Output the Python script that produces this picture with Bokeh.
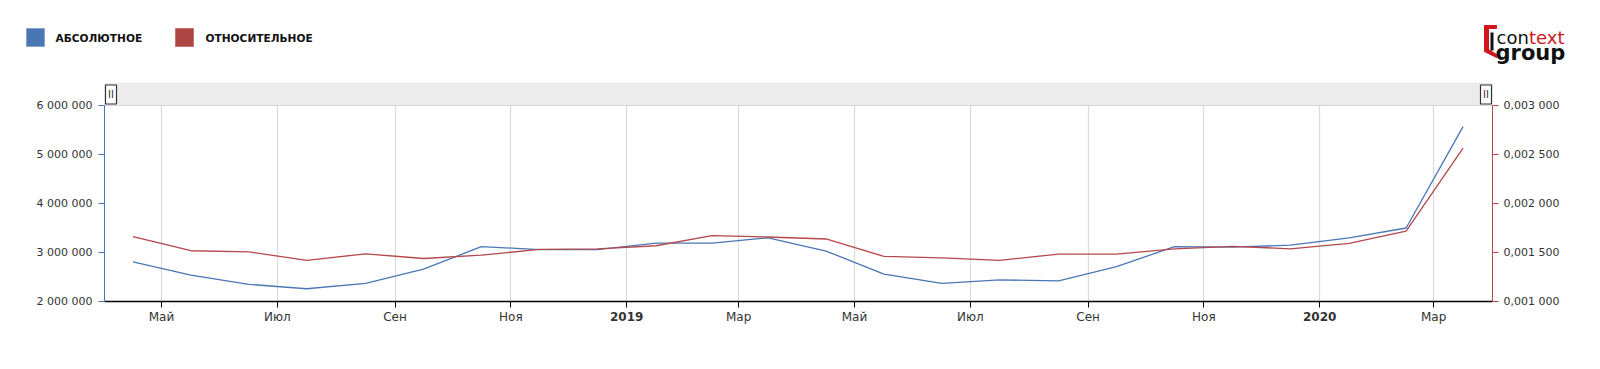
import pandas as pd
from bokeh.plotting import figure
from bokeh.layouts import column
from bokeh.models import (Range1d, LinearAxis, FixedTicker, CustomJSTickFormatter,
                          ColumnDataSource)
from bokeh.core.properties import value
from bokeh.embed import file_html
from bokeh.resources import INLINE

# ---------------- data ----------------
months = ["2018-04", "2018-05", "2018-06", "2018-07", "2018-08", "2018-09",
          "2018-10", "2018-11", "2018-12", "2019-01", "2019-02", "2019-03",
          "2019-04", "2019-05", "2019-06", "2019-07", "2019-08", "2019-09",
          "2019-10", "2019-11", "2019-12", "2020-01", "2020-02", "2020-03"]
absolute = [2810000, 2540000, 2350000, 2260000, 2370000, 2660000,
            3120000, 3060000, 3060000, 3190000, 3190000, 3300000,
            3030000, 2560000, 2370000, 2440000, 2420000, 2710000,
            3120000, 3110000, 3150000, 3300000, 3500000, 5570000]
relative = [0.001662, 0.001518, 0.001507, 0.001419, 0.001487, 0.001439,
            0.001473, 0.001532, 0.001538, 0.001569, 0.001672, 0.001658,
            0.001638, 0.001460, 0.001446, 0.001419, 0.001484, 0.001484,
            0.001538, 0.001563, 0.001538, 0.001594, 0.001717, 0.002564]
series_names = ["АБСОЛЮТНОЕ", "ОТНОСИТЕЛЬНОЕ"]
tick_months = ["2018-05", "2018-07", "2018-09", "2018-11", "2019-01", "2019-03",
               "2019-05", "2019-07", "2019-09", "2019-11", "2020-01", "2020-03"]
tick_labels = ["Май", "Июл", "Сен", "Ноя", "2019", "Мар",
               "Май", "Июл", "Сен", "Ноя", "2020", "Мар"]
year_labels = {"2019", "2020"}
left_ticks = [2000000, 3000000, 4000000, 5000000, 6000000]
right_ticks = [0.001, 0.0015, 0.002, 0.0025, 0.003]
x_start, x_end = "2018-04-01", "2020-04-01"

BLUE = "#4a77b4"
RED = "#b5484a"
LOGO_RED = "#d0161b"
TXT = "#333333"
FONT = "DejaVu Sans"

W = 1600
H = 369
HEAD_H = 83          # header strip (legend + logo)
CHART_H = H - HEAD_H
FRAME_LEFT, FRAME_RIGHT = 104, 108
FRAME_TOP_PAD = 22   # px of scroll strip inside the chart frame above the 6 000 000 line
FRAME_DATA_H = 196   # px between 2 000 000 and 6 000 000


def ms(ts):
    return pd.Timestamp(ts).value / 1e6


# ---------------- header (pixel space) ----------------
head = figure(width=W, height=HEAD_H, x_range=Range1d(0, W), y_range=Range1d(HEAD_H, 0),
              x_axis_location=None, y_axis_location=None,
              output_backend="svg", toolbar_location=None,
              min_border=0, min_border_left=0, min_border_right=0,
              min_border_top=0, min_border_bottom=0)
head.frame_align = False
head.outline_line_color = None
head.xgrid.visible = False
head.ygrid.visible = False

# legend swatches + labels
head.quad(left=[26, 175], right=[44, 193], top=[28, 28], bottom=[46, 46],
          fill_color=[BLUE, "#ad4444"], line_color=["#86a3cc", "#c97070"], line_width=1)
head.text(x=[55, 205], y=[37.5, 37.5], text=series_names, text_font=value(FONT),
          text_font_size="10.6px", text_font_style="bold", text_color="#111111",
          text_baseline="middle")

# logo
head.patch(x=[1484, 1496, 1496, 1488, 1488, 1496, 1496, 1484],
           y=[25, 25, 28, 28, 49, 54, 57, 51],
           fill_color=LOGO_RED, line_color=LOGO_RED)
head.quad(left=[1490], right=[1493], top=[32], bottom=[50], fill_color="#111111", line_color=None)
head.text(x=[1496], y=[37], text=["con"], text_font=value(FONT), text_font_size="18px",
          text_color="#111111", text_baseline="alphabetic")
head.text(x=[1528.5], y=[37], text=["text"], text_font=value(FONT), text_font_size="18px",
          text_color=LOGO_RED, text_baseline="alphabetic")
head.text(x=[1495], y=[52], text=["group"], text_font=value(FONT), text_font_size="21px",
          text_font_style="bold", text_color="#111111", text_baseline="alphabetic")

# ---------------- chart ----------------
dates = []
for m in months:
    t = pd.Timestamp(m + "-01")
    dates.append(t + pd.Timedelta(days=t.days_in_month / 2))
src = ColumnDataSource(dict(date=dates, abs=absolute, rel=relative))

l_span = left_ticks[-1] - left_ticks[0]
r_span = right_ticks[-1] - right_ticks[0]
l_top = left_ticks[-1] + l_span * FRAME_TOP_PAD / FRAME_DATA_H
r_top = right_ticks[-1] + r_span * FRAME_TOP_PAD / FRAME_DATA_H

p = figure(width=W, height=CHART_H, x_axis_type="datetime",
           x_range=Range1d(ms(x_start), ms(x_end)),
           y_range=Range1d(left_ticks[0], l_top),
           output_backend="svg", toolbar_location=None,
           min_border_left=FRAME_LEFT, min_border_right=FRAME_RIGHT,
           min_border_top=0, min_border_bottom=CHART_H - FRAME_TOP_PAD - FRAME_DATA_H)
p.frame_align = False
p.outline_line_color = None
p.extra_y_ranges = {"rel": Range1d(right_ticks[0], r_top)}

tick_vals = [ms(t + "-01") for t in tick_months]

xa = p.xaxis[0]
xa.ticker = FixedTicker(ticks=tick_vals)
xa.major_label_overrides = {v: ("" if l in year_labels else l)
                            for v, l in zip(tick_vals, tick_labels)}
xa.axis_line_color = "black"
xa.axis_line_width = 1.6
xa.major_tick_line_color = "black"
xa.major_tick_in = 0
xa.major_tick_out = 6
xa.minor_tick_line_color = None
xa.major_label_text_font = FONT
xa.major_label_text_font_size = "12px"
xa.major_label_text_color = TXT
xa.major_label_standoff = 2

# second (bold) axis carrying only the year labels, pulled up onto the month row
year_vals = [v for v, l in zip(tick_vals, tick_labels) if l in year_labels]
xa2 = LinearAxis(ticker=FixedTicker(ticks=year_vals),
                 major_label_overrides={v: l for v, l in zip(tick_vals, tick_labels) if l in year_labels})
xa2.axis_line_color = None
xa2.major_tick_line_color = None
xa2.major_tick_in = 0
xa2.major_tick_out = 0
xa2.minor_tick_line_color = None
xa2.major_label_text_font = FONT
xa2.major_label_text_font_size = "12px"
xa2.major_label_text_font_style = "bold"
xa2.major_label_text_color = TXT
xa2.major_label_standoff = -15
p.add_layout(xa2, "below")

p.xgrid.ticker = FixedTicker(ticks=tick_vals)
p.xgrid.grid_line_color = "#dddddd"
p.xgrid.grid_line_width = 1.3
p.ygrid.grid_line_color = None

ya = p.yaxis[0]
ya.ticker = FixedTicker(ticks=left_ticks)
ya.bounds = (left_ticks[0], left_ticks[-1])
ya.formatter = CustomJSTickFormatter(
    code="return tick.toFixed(0).replace(/\\B(?=(\\d{3})+(?!\\d))/g, ' ');")
ya.axis_line_color = BLUE
ya.major_tick_line_color = BLUE
ya.major_tick_in = 0
ya.major_tick_out = 6
ya.minor_tick_line_color = None
ya.major_label_text_font = FONT
ya.major_label_text_font_size = "11px"
ya.major_label_text_color = TXT
ya.major_label_standoff = 6

ra = LinearAxis(y_range_name="rel", ticker=FixedTicker(ticks=right_ticks),
                bounds=(right_ticks[0], right_ticks[-1]))
ra.formatter = CustomJSTickFormatter(
    code="var s = tick.toFixed(6).replace('.', ','); return s.slice(0, s.length-3) + ' ' + s.slice(s.length-3);")
ra.axis_line_color = RED
ra.major_tick_line_color = RED
ra.major_tick_in = 0
ra.major_tick_out = 6
ra.minor_tick_line_color = None
ra.major_label_text_font = FONT
ra.major_label_text_font_size = "11px"
ra.major_label_text_color = TXT
ra.major_label_standoff = 5
p.add_layout(ra, "right")

# scroll strip at the top of the frame
p.quad(left=[ms(x_start)], right=[ms(x_end)], bottom=[left_ticks[-1]], top=[l_top],
       fill_color="#ececec", line_color="#d6d6d6", line_width=1)
ms_per_px = (ms(x_end) - ms(x_start)) / (W - FRAME_LEFT - FRAME_RIGHT)
strip_mid = left_ticks[-1] + l_span * (FRAME_TOP_PAD / 2) / FRAME_DATA_H
hx = [ms(x_start) + 6.5 * ms_per_px, ms(x_end) - 6.5 * ms_per_px]
p.rect(x=hx, y=[strip_mid, strip_mid], width=11, height=19,
       width_units="screen", height_units="screen",
       fill_color="white", line_color="#333333", line_width=1.2)
p.text(x=hx, y=[strip_mid, strip_mid], text=["II", "II"], text_align="center",
       text_baseline="middle", text_font=value(FONT), text_font_size="10px",
       text_color="#333333")

# data lines
p.line(x="date", y="abs", source=src, line_color=BLUE, line_width=1.3)
p.line(x="date", y="rel", source=src, y_range_name="rel", line_color=RED, line_width=1.3)

layout = column(head, p, spacing=0)
open("out.html", "w").write(file_html(layout, INLINE))
